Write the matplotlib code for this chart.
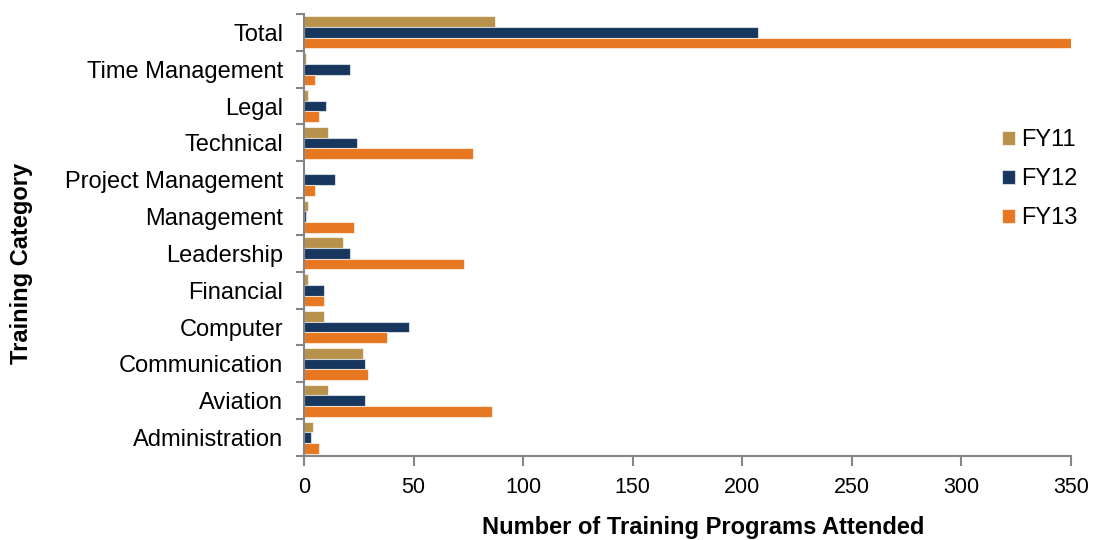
import numpy as np
import matplotlib.pyplot as plt

plt.rcParams['font.family'] = ['Liberation Sans', 'DejaVu Sans']

categories = ['Administration', 'Aviation', 'Communication', 'Computer', 'Financial',
              'Leadership', 'Management', 'Project Management', 'Technical', 'Legal',
              'Time Management', 'Total']
fy11 = [4, 11, 27, 9, 2, 18, 2, 0, 11, 2, 1, 87]
fy12 = [3, 28, 28, 48, 9, 21, 1, 14, 24, 10, 21, 207]
fy13 = [7, 86, 29, 38, 9, 73, 23, 5, 77, 7, 5, 351]

series = [('FY11', fy11, '#B8924A'), ('FY12', fy12, '#17375E'), ('FY13', fy13, '#E87722')]

fig = plt.figure(figsize=(10.99, 5.40), dpi=100)
ax = fig.add_axes([0.2766, 0.1556, 0.6979, 0.8185])

y = np.arange(len(categories))
h = 0.29
for i, (name, vals, col) in enumerate(series):
    ax.barh(y + (1 - i) * h, vals, height=h, color=col, label=name,
            edgecolor=(1, 1, 1, 0.6), linewidth=0.8)

ax.set_xlim(0, 350)
ax.set_ylim(-0.5, len(categories) - 0.5)
ax.set_xticks(np.arange(0, 351, 50))

# ticks sit between categories, labels at the centres
ax.set_yticks(np.arange(-0.5, len(categories), 1))
ax.set_yticklabels([])
ax.set_yticks(y, minor=True)
ax.set_yticklabels(categories, minor=True)
ax.tick_params(axis='y', which='minor', length=0, pad=15, labelsize=17)
ax.tick_params(axis='y', which='major', length=6, width=1.5, color='#868686')
ax.tick_params(axis='x', length=7, width=1.5, color='#868686', labelsize=15.5, pad=8)

for s in ['top', 'right']:
    ax.spines[s].set_visible(False)
for s in ['left', 'bottom']:
    ax.spines[s].set_color('#868686')
    ax.spines[s].set_linewidth(1.5)

fig.text(0.64, 0.024, 'Number of Training Programs Attended', fontsize=17, fontweight='bold',
         ha='center', va='center')
fig.text(0.02, 0.513, 'Training Category', rotation=90, fontsize=17, fontweight='bold',
         ha='center', va='center')

fig.legend(loc='center left', bbox_to_anchor=(0.9117, 0.6685), frameon=False, fontsize=17,
           borderpad=0, borderaxespad=0, handlelength=0.55, handleheight=0.55,
           handletextpad=0.25, labelspacing=0.72)

fig.savefig('out.png', dpi=100)
